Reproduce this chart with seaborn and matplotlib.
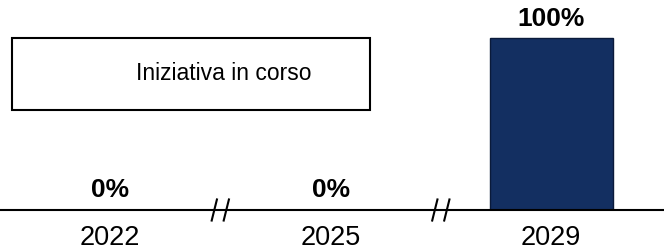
import matplotlib
matplotlib.use('Agg')
import matplotlib.pyplot as plt
import matplotlib.transforms as mtransforms
from matplotlib.patches import Rectangle
import seaborn as sns
import pandas as pd

# dati
years = ['2022', '2025', '2029']
values = [0, 0, 100]
labels = ['0%', '0%', '100%']
box_text = 'Iniziativa in corso'

df = pd.DataFrame({'anno': years, 'valore': values})

sns.set_theme(style='white')
plt.rcParams['font.family'] = ['Liberation Sans', 'DejaVu Sans']

fig = plt.figure(figsize=(6.64, 2.5), dpi=100)
ax = fig.add_axes([0, 0.16, 1, 0.84])

sns.barplot(data=df, x='anno', y='valore', color='#132F61', saturation=1,
            width=0.558, edgecolor='#0A1A3A', linewidth=1, ax=ax)

ax.set_xlim(-0.499, 2.512)
ax.set_ylim(0, 122.1)

# etichette percentuali
for i, (v, lab) in enumerate(zip(values, labels)):
    pad = 5 if v > 0 else 6
    ax.annotate(lab, xy=(i, v), xytext=(0, pad), textcoords='offset points',
                ha='center', va='bottom', fontsize=19, fontweight='bold', color='black')

# linea di base
for s in ['top', 'right', 'left']:
    ax.spines[s].set_visible(False)
ax.spines['bottom'].set_linewidth(1.5)
ax.spines['bottom'].set_color('black')
ax.set_yticks([])
ax.set_xlabel('')
ax.set_ylabel('')
ax.tick_params(axis='x', length=0, pad=10.5, labelsize=19.5, labelcolor='black')

# segni di interruzione asse
for xb in [0.5, 1.5]:
    for dx in [-6, 6]:
        tr = ax.get_xaxis_transform() + mtransforms.ScaledTranslation(dx / 100, 0, fig.dpi_scale_trans)
        ax.plot([xb - 0.013, xb + 0.013], [-0.055, 0.055], transform=tr,
                color='black', lw=1.5, clip_on=False, solid_capstyle='butt')

# riquadro
fig.patches.append(Rectangle((12 / 664, 1 - 110 / 250), 358 / 664, 72 / 250,
                             transform=fig.transFigure, fill=False,
                             edgecolor='black', linewidth=1.5))
fig.text(224 / 664, 1 - 74 / 250, box_text, ha='center', va='center',
         fontsize=16.5, color='black')

fig.savefig('out.png', dpi=100)
